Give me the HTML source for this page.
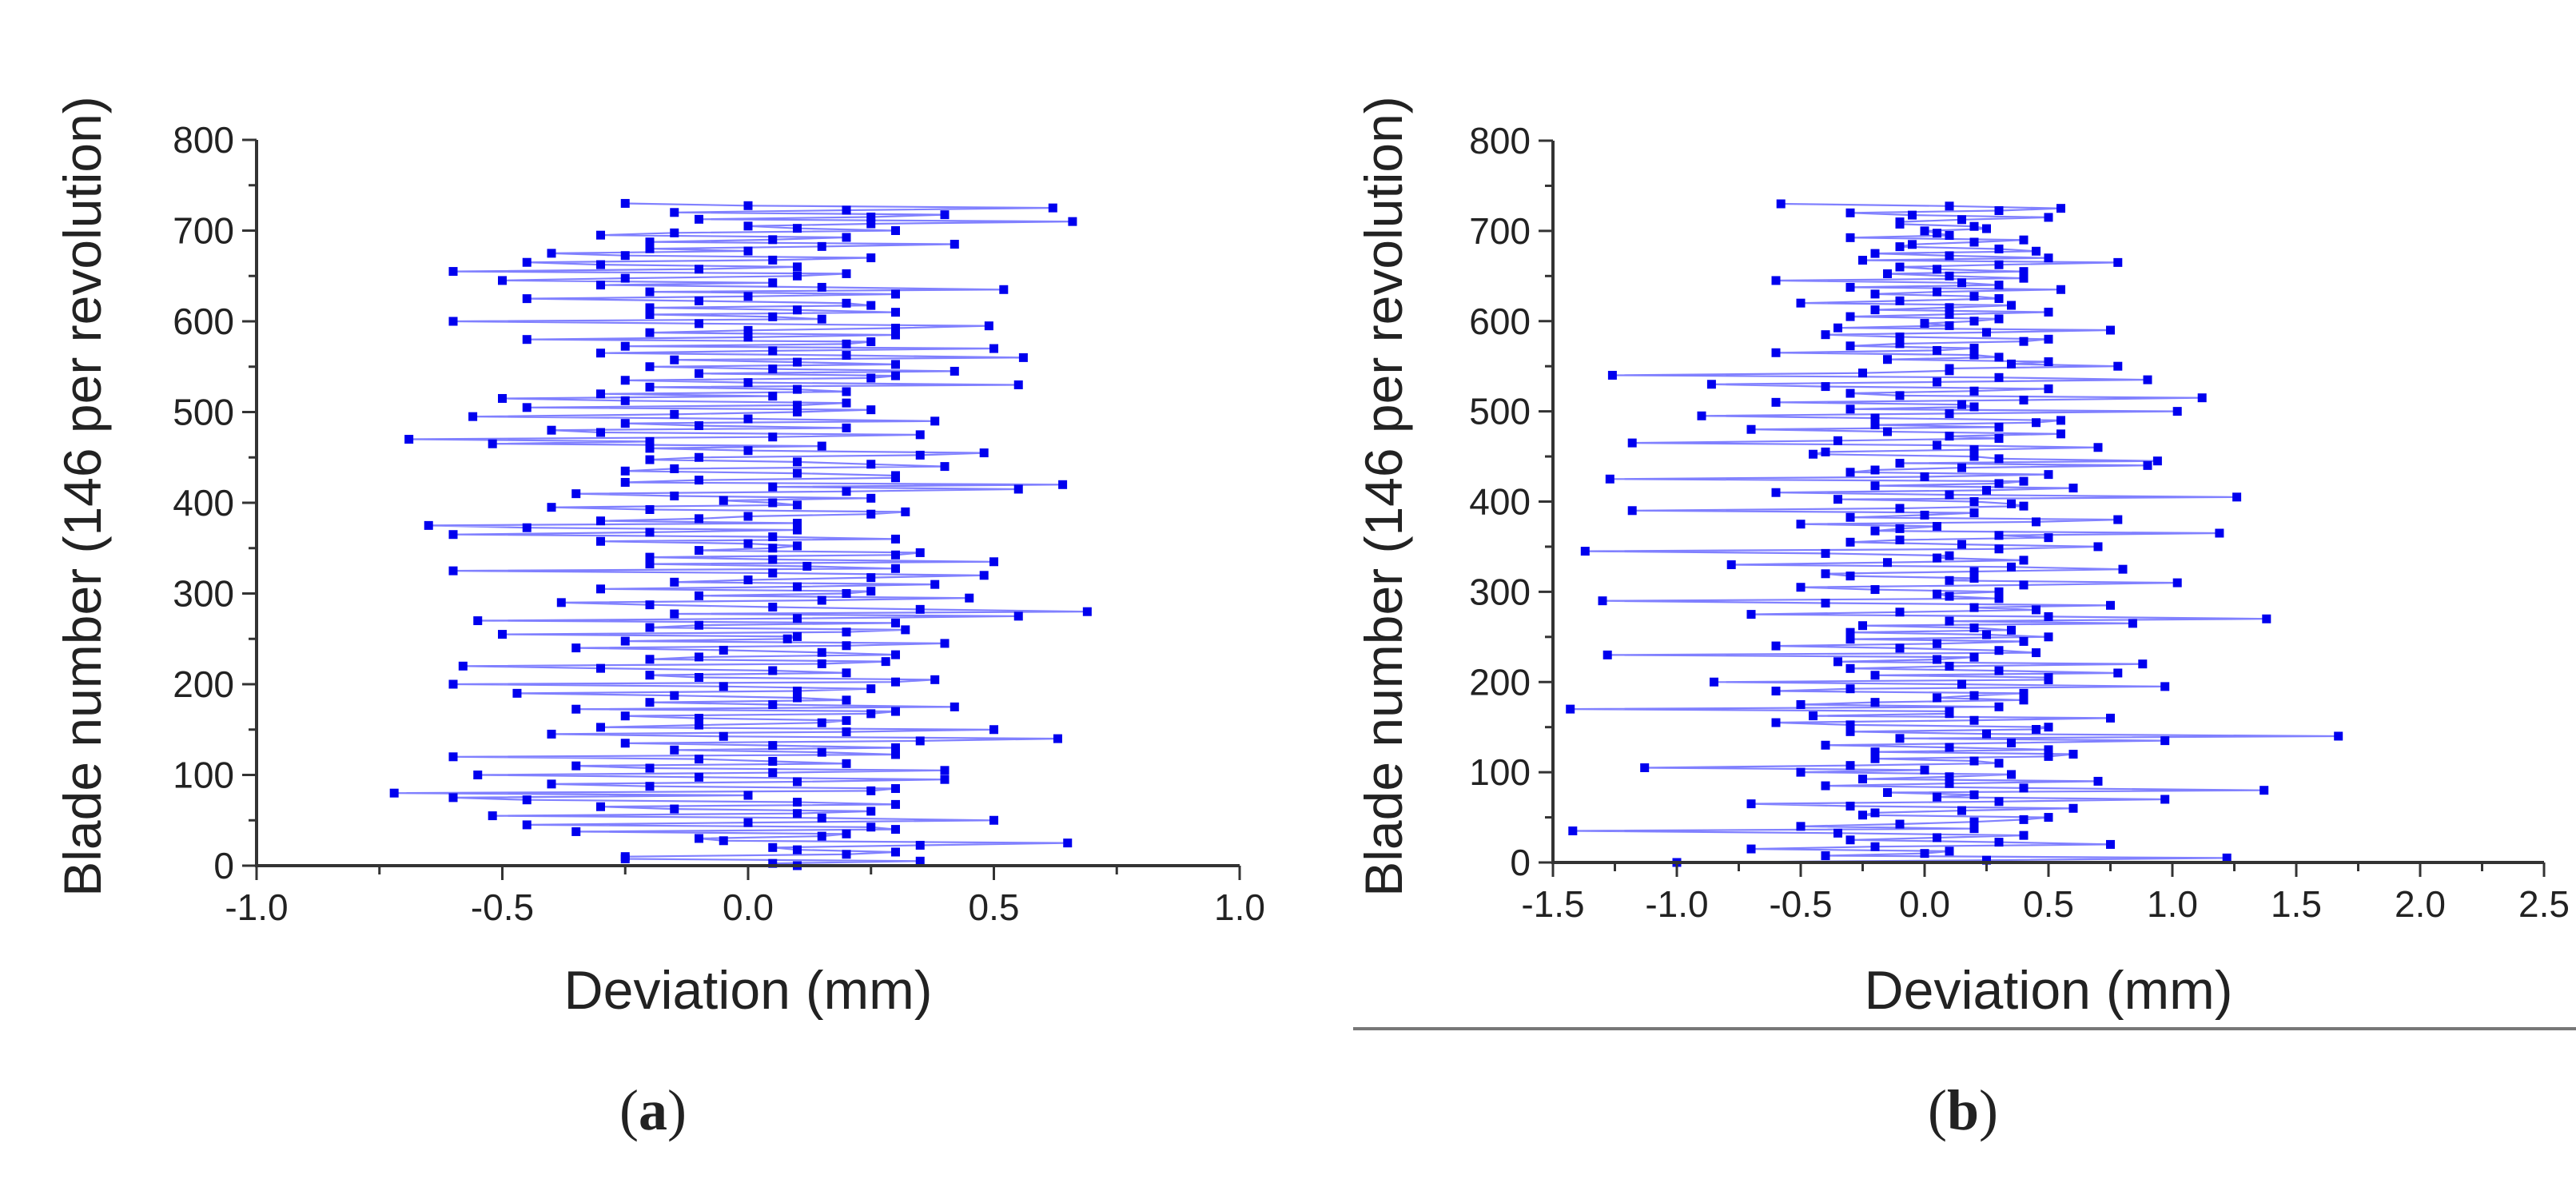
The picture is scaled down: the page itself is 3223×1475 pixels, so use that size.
<!DOCTYPE html>
<html><head><meta charset="utf-8"><style>
html,body{margin:0;padding:0;background:#fff;}
svg{display:block;}
text{font-family:"Liberation Sans",sans-serif;fill:#222;}
</style></head><body>
<svg id="fig" width="3223" height="1475" viewBox="0 0 3223 1475" xmlns="http://www.w3.org/2000/svg">
<line x1="1693" y1="1287" x2="3223" y2="1287" stroke="#777" stroke-width="4"/>
<text x="817" y="1413" text-anchor="middle" style="font-family:'Liberation Serif',serif;font-size:72px;">(<tspan font-weight="bold">a</tspan>)</text>
<text x="2456" y="1413" text-anchor="middle" style="font-family:'Liberation Serif',serif;font-size:72px;">(<tspan font-weight="bold">b</tspan>)</text>
</svg>
<script>
// Blade numbers: devX[i] at blade i*5, midX[i] at blade i*5+2.5
const bladeStep = 5;
const devA = [0.1,0.35,-0.25,0.3,0.05,0.65,-0.1,0.2,0.3,-0.45,0.5,
-0.52,0.25,-0.3,0.1,-0.6,-0.72,0.3,-0.4,0.4,-0.55,
0.4,-0.35,0.05,-0.6,0.15,0.3,-0.25,0.63,-0.4,0.5,
-0.1,0.2,-0.25,0.3,0.42,-0.2,0.1,-0.47,0.25,-0.6,
0.38,-0.2,0.05,-0.58,0.28,-0.1,0.15,-0.35,0.4,0.08,
-0.5,0.32,-0.1,-0.55,0.55,0.69,0.05,-0.38,0.45,0.2,
-0.3,0.38,0.0,0.48,-0.6,0.12,0.5,-0.2,0.35,0.05,
0.0,0.3,-0.6,0.1,-0.65,-0.3,0.0,0.32,-0.4,0.05,
0.25,-0.35,0.55,0.64,-0.1,0.3,-0.25,0.4,0.1,-0.1,
0.48,-0.2,-0.52,-0.69,0.35,-0.4,-0.1,0.38,-0.56,0.1,
-0.45,0.2,-0.5,-0.3,0.1,0.55,-0.25,0.3,0.42,-0.2,
0.1,0.56,-0.3,0.5,0.2,-0.45,0.3,0.0,0.49,-0.6,
0.05,0.3,-0.2,0.2,-0.45,0.3,0.52,-0.3,-0.5,0.1,
-0.6,0.1,-0.45,0.25,-0.4,-0.2,0.42,0.05,-0.3,0.3,
0.0,0.66,0.25,-0.15,0.62,-0.25];
const midA = [0.05,-0.25,0.2,0.1,0.35,-0.05,0.15,-0.35,0.25,0.0,0.15,
0.1,-0.15,0.3,-0.45,0.0,0.25,-0.2,0.1,-0.1,0.05,
-0.2,0.2,-0.1,0.3,-0.15,0.05,0.35,-0.05,0.2,-0.3,
0.15,-0.1,0.25,-0.35,0.05,0.2,-0.15,0.1,-0.05,0.3,
-0.1,0.2,-0.3,0.15,-0.2,0.3,-0.05,0.2,-0.25,0.1,
0.2,-0.2,0.3,0.1,-0.15,0.35,-0.2,0.15,-0.1,0.25,
0.1,-0.15,0.25,0.05,0.3,-0.2,0.05,0.3,-0.1,0.1,
-0.3,0.05,-0.2,-0.45,0.1,-0.1,0.25,-0.2,0.1,-0.05,
-0.15,0.2,0.05,-0.25,0.3,0.1,-0.15,0.25,-0.2,0.35,
0.0,0.15,-0.2,0.05,-0.3,0.2,-0.25,0.0,-0.15,0.25,
0.1,-0.25,0.05,0.2,-0.2,0.0,0.25,-0.1,0.05,0.3,
-0.15,0.2,0.05,-0.25,0.25,0.0,-0.2,0.3,-0.1,0.15,
-0.2,0.1,0.25,-0.1,0.0,-0.2,0.15,0.05,-0.25,0.2,
-0.1,-0.3,0.05,-0.25,0.0,0.15,-0.2,0.2,-0.15,0.1,
0.25,-0.1,0.4,0.2,0.0,0.1];
const devB = [-1.0,1.22,0.0,-0.7,0.75,-0.3,0.4,-1.42,-0.5,0.2,0.5,
-0.2,0.6,-0.7,0.97,0.2,1.37,-0.4,0.7,0.1,-0.5,
-1.13,0.3,-0.2,0.6,0.5,-0.4,0.97,1.67,-0.3,0.5,
-0.6,0.75,0.1,-1.43,-0.5,0.4,0.2,-0.6,0.97,-0.85,
0.5,0.78,-0.3,0.88,0.05,-1.28,0.3,-0.6,0.4,0.5,
-0.3,0.2,0.84,1.38,-0.7,0.45,0.75,-1.3,0.1,0.3,
-0.5,1.02,0.2,-0.4,0.8,-0.78,0.4,0.1,-1.37,0.7,
-0.3,0.5,1.19,-0.1,-0.5,0.78,0.0,-1.18,0.4,0.2,
1.26,-0.6,0.6,0.3,-1.27,0.5,-0.2,0.9,0.94,0.2,
-0.4,0.7,-1.18,0.3,0.55,-0.7,-0.2,0.55,-0.9,1.02,
0.2,-0.6,1.12,-0.3,0.5,-0.86,0.9,-1.26,0.1,0.78,
0.5,0.3,-0.6,0.2,-0.1,0.5,-0.4,0.75,0.1,0.2,
-0.3,0.5,0.1,-0.5,0.3,-0.2,0.55,0.3,-0.6,0.1,
0.4,-0.1,0.78,0.5,-0.2,0.3,-0.05,0.4,0.1,0.0,
0.2,-0.1,0.5,-0.3,0.55,-0.58];
const midB = [0.25,-0.4,0.1,-0.2,0.3,0.05,-0.35,0.2,-0.1,0.4,-0.25,
0.15,-0.3,0.3,0.05,-0.15,0.4,0.1,-0.25,0.35,0.0,
-0.3,0.2,0.5,-0.2,0.1,0.35,-0.1,0.25,0.45,-0.3,
0.2,-0.45,0.1,0.3,-0.2,0.05,0.4,-0.3,0.15,0.5,
-0.2,0.3,0.1,-0.35,0.2,0.45,-0.1,0.05,-0.3,0.25,
0.35,-0.25,0.1,0.5,-0.1,0.2,-0.4,0.3,0.05,-0.2,
0.4,0.1,-0.3,0.2,0.35,-0.15,0.05,-0.4,0.3,0.15,
-0.1,0.3,-0.2,0.05,0.45,-0.3,0.2,-0.1,0.35,-0.35,
0.1,0.25,-0.2,0.4,0.0,-0.3,0.15,-0.1,0.3,-0.45,
0.2,0.05,-0.35,0.1,-0.15,0.3,0.45,-0.2,0.1,-0.3,
0.15,0.4,-0.1,0.2,-0.4,0.05,0.3,-0.25,0.1,0.35,
-0.15,0.2,0.05,-0.3,0.4,-0.1,0.25,-0.35,0.0,0.3,
0.1,-0.2,0.35,-0.1,0.2,0.05,-0.3,0.15,0.4,-0.15,
0.05,0.3,-0.25,0.1,0.45,-0.1,0.2,-0.3,0.05,0.25,
-0.1,0.15,-0.05,0.3,0.1,0.45];
const xTicksA = ["-1.0","-0.5","0.0","0.5","1.0"];
const xTicksB = ["-1.5","-1.0","-0.5","0.0","0.5","1.0","1.5","2.0","2.5"];
const yTicks = ["0","100","200","300","400","500","600","700","800"];

const NS="http://www.w3.org/2000/svg";
const svg=document.getElementById('fig');
function mk(tag,attrs,parent){const e=document.createElementNS(NS,tag);for(const k in attrs)e.setAttribute(k,attrs[k]);(parent||svg).appendChild(e);return e;}

function panel(id,data,mid,xTicks,x0,x1,xmin,xmax,yTop,yBot,titleX){
  const g=mk('g',{});
  
  
  const sx=v=>x0+(v-xmin)/(xmax-xmin)*(x1-x0);
  const sy=v=>yBot-(v/800)*(yBot-yTop);
  const pts=[];
  data.forEach((v,i)=>{pts.push([v,i*bladeStep]);if(i<mid.length&&i<data.length-1)pts.push([mid[i],i*bladeStep+bladeStep/2]);});
  let d='';
  pts.forEach((p,i)=>{d+=(i?'L':'M')+sx(p[0]).toFixed(1)+' '+sy(p[1]).toFixed(1);});
  const ln=mk('path',{d:d,fill:'none',stroke:'#8080ff','stroke-width':2.2},g);
  
  
  pts.forEach(p=>{
    const r=mk('rect',{x:sx(p[0])-5.5,y:sy(p[1])-5.5,width:11,height:11,fill:'#0000ee'},g);
    
    
  });
  const ax=mk('path',{d:`M${x0} ${yTop}V${yBot}H${x1}`,fill:'none',stroke:'#333','stroke-width':4},g);
  
  
  for(let v=0;v<=800;v+=50){
    const major=v%100===0;
    mk('line',{x1:x0-(major?18:10),y1:sy(v),x2:x0,y2:sy(v),stroke:'#333','stroke-width':3},g);
  }
  yTicks.forEach(t=>{
    const tx=mk('text',{x:x0-28,y:sy(+t)+16,'text-anchor':'end','font-size':46},g);
    tx.textContent=t;
    
    
  });
  const n=xTicks.length;
  for(let i=0;i<n;i++){
    const v=+xTicks[i];
    mk('line',{x1:sx(v),y1:yBot,x2:sx(v),y2:yBot+18,stroke:'#333','stroke-width':3},g);
    if(i<n-1){const m=(v+ +xTicks[i+1])/2;mk('line',{x1:sx(m),y1:yBot,x2:sx(m),y2:yBot+11,stroke:'#333','stroke-width':3},g);}
    const tx=mk('text',{x:sx(v),y:yBot+68,'text-anchor':'middle','font-size':46},g);
    tx.textContent=xTicks[i];
    
    
  }
  const xt=mk('text',{x:(x0+x1)/2,y:1262,'text-anchor':'middle','font-size':68},g);
  xt.textContent='Deviation (mm)';
  
  
  const yt=mk('text',{x:0,y:0,'text-anchor':'middle','font-size':66,transform:`translate(${titleX+24},621) rotate(-90)`},g);
  yt.textContent='Blade number (146 per revolution)';
  
  
}
panel('a',devA,midA,xTicksA,321,1551,-1,1,175,1083,102);
panel('b',devB,midB,xTicksB,1943,3183,-1.5,2.5,176,1079,1730);
</script>
</body></html>
